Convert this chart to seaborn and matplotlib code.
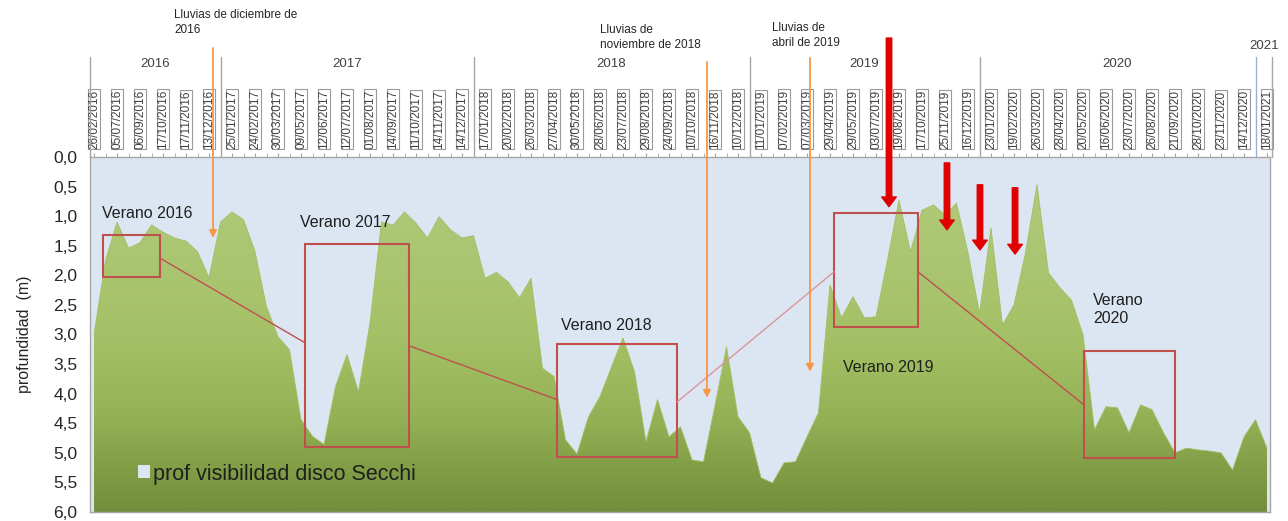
import numpy as np
import matplotlib.pyplot as plt
from matplotlib.colors import LinearSegmentedColormap
import seaborn as sns

# fechas de muestreo (etiqueta cada dos puntos)
fechas = ['26/02/2016', '05/07/2016', '06/09/2016', '17/10/2016', '17/11/2016', '13/12/2016',
          '25/01/2017', '24/02/2017', '30/03/2017', '09/05/2017', '12/06/2017', '12/07/2017',
          '01/08/2017', '14/09/2017', '11/10/2017', '14/11/2017', '14/12/2017',
          '17/01/2018', '20/02/2018', '26/03/2018', '27/04/2018', '30/05/2018', '28/06/2018',
          '23/07/2018', '29/08/2018', '24/09/2018', '10/10/2018', '16/11/2018', '10/12/2018',
          '11/01/2019', '07/02/2019', '07/03/2019', '29/04/2019', '29/05/2019', '03/07/2019',
          '19/08/2019', '17/10/2019', '25/11/2019', '16/12/2019',
          '23/01/2020', '19/02/2020', '26/03/2020', '28/04/2020', '20/05/2020', '16/06/2020',
          '23/07/2020', '26/08/2020', '21/09/2020', '28/10/2020', '23/11/2020', '14/12/2020',
          '18/01/2021']
anios = ['2016', '2017', '2018', '2019', '2020', '2021']
n_por_anio = [6, 11, 12, 10, 12, 1]

# profundidad de visibilidad del disco Secchi (m)
profundidad = [3.00, 1.75, 1.10, 1.54, 1.45, 1.15, 1.27, 1.37, 1.42, 1.60,
               2.04, 1.10, 0.93, 1.06, 1.60, 2.53, 3.04, 3.26, 4.44, 4.72,
               4.86, 3.88, 3.34, 3.97, 2.80, 1.10, 1.15, 0.93, 1.12, 1.37,
               1.01, 1.23, 1.37, 1.33, 2.05, 1.95, 2.11, 2.38, 2.05, 3.57,
               3.71, 4.78, 5.02, 4.39, 4.05, 3.55, 3.06, 3.63, 4.81, 4.10,
               4.73, 4.56, 5.12, 5.15, 4.20, 3.21, 4.39, 4.66, 5.42, 5.51,
               5.17, 5.15, 4.73, 4.32, 2.16, 2.72, 2.36, 2.72, 2.70, 1.74,
               0.73, 1.60, 0.90, 0.81, 0.98, 0.78, 1.62, 2.64, 1.20, 2.84,
               2.50, 1.62, 0.47, 1.96, 2.21, 2.42, 3.00, 4.61, 4.22, 4.24,
               4.66, 4.19, 4.27, 4.66, 5.00, 4.92, 4.95, 4.97, 5.00, 5.29,
               4.73, 4.44, 4.92]

veranos = ['Verano 2016', 'Verano 2017', 'Verano 2018', 'Verano 2019', 'Verano\n2020']

sns.set_style('white')
plt.rcParams['font.family'] = ['Liberation Sans', 'DejaVu Sans']

azul = '#dce6f2'
gris = '#a6a6a6'

fig = plt.figure(figsize=(12.88, 5.21), dpi=100)
ax = fig.add_axes([90 / 1288, 9 / 521, 1180 / 1288, 355 / 521])
ax.set_facecolor(azul)

x = np.arange(len(profundidad))
prof = np.array(profundidad)
xmin, xmax = -0.35, 102.26

ax.fill_between(x, 0, prof, color=azul, lw=0, label='prof visibilidad disco Secchi', zorder=1)
verde = ax.fill_between(x, prof, 6, facecolor='none', lw=0, zorder=2)

# degradado verde recortado al área
cmap = LinearSegmentedColormap.from_list(
    'verde', [(0, '#b2cc7e'), (0.5, '#a5c167'), (0.72, '#95b356'), (1, '#728e3b')])
grad = np.linspace(0, 1, 300).reshape(-1, 1)
im = ax.imshow(grad, cmap=cmap, extent=(xmin, xmax, 6, 0), aspect='auto', zorder=2)
im.set_clip_path(verde.get_paths()[0], transform=ax.transData)

sns.lineplot(x=x, y=prof, ax=ax, color='#a2bf63', lw=0.6, zorder=3)

ax.set_xlim(xmin, xmax)
ax.set_ylim(6, 0)

# eje y
yt = np.arange(0, 6.01, 0.5)
ax.set_yticks(yt)
ax.set_yticklabels([f'{v:.1f}'.replace('.', ',') for v in yt])
ax.tick_params(axis='y', length=0, pad=9, labelsize=12.5, labelcolor='#262626')
ax.set_ylabel('profundidad  (m)', fontsize=11.5, color='#262626', labelpad=15)

# eje x arriba con fechas
ax.xaxis.tick_top()
ax.set_xticks(x[::2])
ax.set_xticklabels(fechas, rotation=90, fontsize=8.5, color='#404040')
ax.set_xticks(x, minor=True)
ax.tick_params(axis='x', which='both', length=3, color=gris, pad=3, top=True, bottom=False)
for lab in ax.get_xticklabels():
    lab.set_bbox(dict(boxstyle='square,pad=0.04', fc='white', ec='#9a9a9a', lw=0.8))

for s in ax.spines.values():
    s.set_color(gris)
    s.set_linewidth(1)

# separadores y etiquetas de año
acum = np.cumsum([0] + n_por_anio)
bordes = [xmin] + [2 * c - 1 for c in acum[1:-1]] + [xmax + 0.2]
trans = ax.get_xaxis_transform()
for k, b in enumerate(bordes):
    col = '#95b3d7' if k == len(bordes) - 2 else gris
    ax.plot([b, b], [1.0, 1.283], transform=trans, color=col, lw=1, clip_on=False)
for k, a in enumerate(anios):
    c = (max(bordes[k], -0.5) + min(bordes[k + 1], 102.5)) / 2
    ax.text(c, 1.313 if a == '2021' else 1.262, a, transform=trans, ha='center',
            va='center', fontsize=9.5, color='#404040')

# cajas de verano y líneas de unión
rojo = '#c0504d'
cajas = [(0.78, 5.74, 1.32, 2.03), (18.35, 27.39, 1.47, 4.90), (40.26, 50.70, 3.16, 5.07),
         (64.35, 71.65, 0.95, 2.87), (86.09, 94.0, 3.28, 5.08)]
for x0, x1, p0, p1 in cajas:
    ax.add_patch(plt.Rectangle((x0, p0), x1 - x0, p1 - p0, fill=False, ec=rojo, lw=1.5, zorder=4))
uniones = [((5.83, 1.72), (18.35, 3.14), rojo), ((27.39, 3.19), (40.26, 4.10), rojo),
           ((50.7, 4.14), (64.35, 1.94), '#d9959b'), ((71.65, 1.94), (86.09, 4.19), rojo)]
for (xa, ya), (xb, yb), col in uniones:
    ax.plot([xa, xb], [ya, yb], color=col, lw=1, zorder=4)

pos_textos = [(0.7, 0.95), (17.9, 1.10), (40.6, 2.85), (65.1, 3.55), (86.9, 2.58)]
for t, (tx, ty) in zip(veranos, pos_textos):
    ax.text(tx, ty, t, fontsize=11.5, color='#1f1f1f', va='center', ha='left', zorder=5)

# flechas de lluvias
naranja = '#f79646'
for xf, yf, pf in [(10.35, 1.307, 1.37), (53.3, 1.268, 4.07), (62.26, 1.279, 3.63)]:
    ax.annotate('', xy=(xf, pf), xycoords='data', xytext=(xf, yf),
                textcoords=('data', 'axes fraction'), annotation_clip=False,
                arrowprops=dict(arrowstyle='-|>', color=naranja, lw=1.3, mutation_scale=11,
                                shrinkA=0, shrinkB=0), zorder=5)

estilo_rojo = 'simple,head_length=0.5,head_width=0.75,tail_width=0.28'
ax.annotate('', xy=(69.13, 0.84), xycoords='data', xytext=(69.13, 1.335),
            textcoords=('data', 'axes fraction'), annotation_clip=False,
            arrowprops=dict(arrowstyle=estilo_rojo, color='#e00000', mutation_scale=14,
                            shrinkA=0, shrinkB=0), zorder=6)
for xf, p0, p1 in [(74.17, 0.10, 1.23), (77.04, 0.47, 1.57), (80.09, 0.52, 1.64)]:
    ax.annotate('', xy=(xf, p1), xytext=(xf, p0),
                arrowprops=dict(arrowstyle=estilo_rojo, color='#e00000', mutation_scale=14,
                                shrinkA=0, shrinkB=0), zorder=6)

fig.text(174 / 1288, 1 - 9 / 521, 'Lluvias de diciembre de\n2016', fontsize=8.5,
         va='top', ha='left', color='#262626', linespacing=1.35)
fig.text(600 / 1288, 1 - 24 / 521, 'Lluvias de\nnoviembre de 2018', fontsize=8.5,
         va='top', ha='left', color='#262626', linespacing=1.35)
fig.text(772 / 1288, 1 - 22 / 521, 'Lluvias de\nabril de 2019', fontsize=8.5,
         va='top', ha='left', color='#262626', linespacing=1.35)

ax.legend(loc='center left', bbox_to_anchor=(0.041, 0.107), frameon=False, fontsize=15.5,
          handlelength=0.55, handleheight=0.55, handletextpad=0.15, labelcolor='#1f1f1f',
          borderpad=0, borderaxespad=0)

fig.savefig('out.png', dpi=100)
